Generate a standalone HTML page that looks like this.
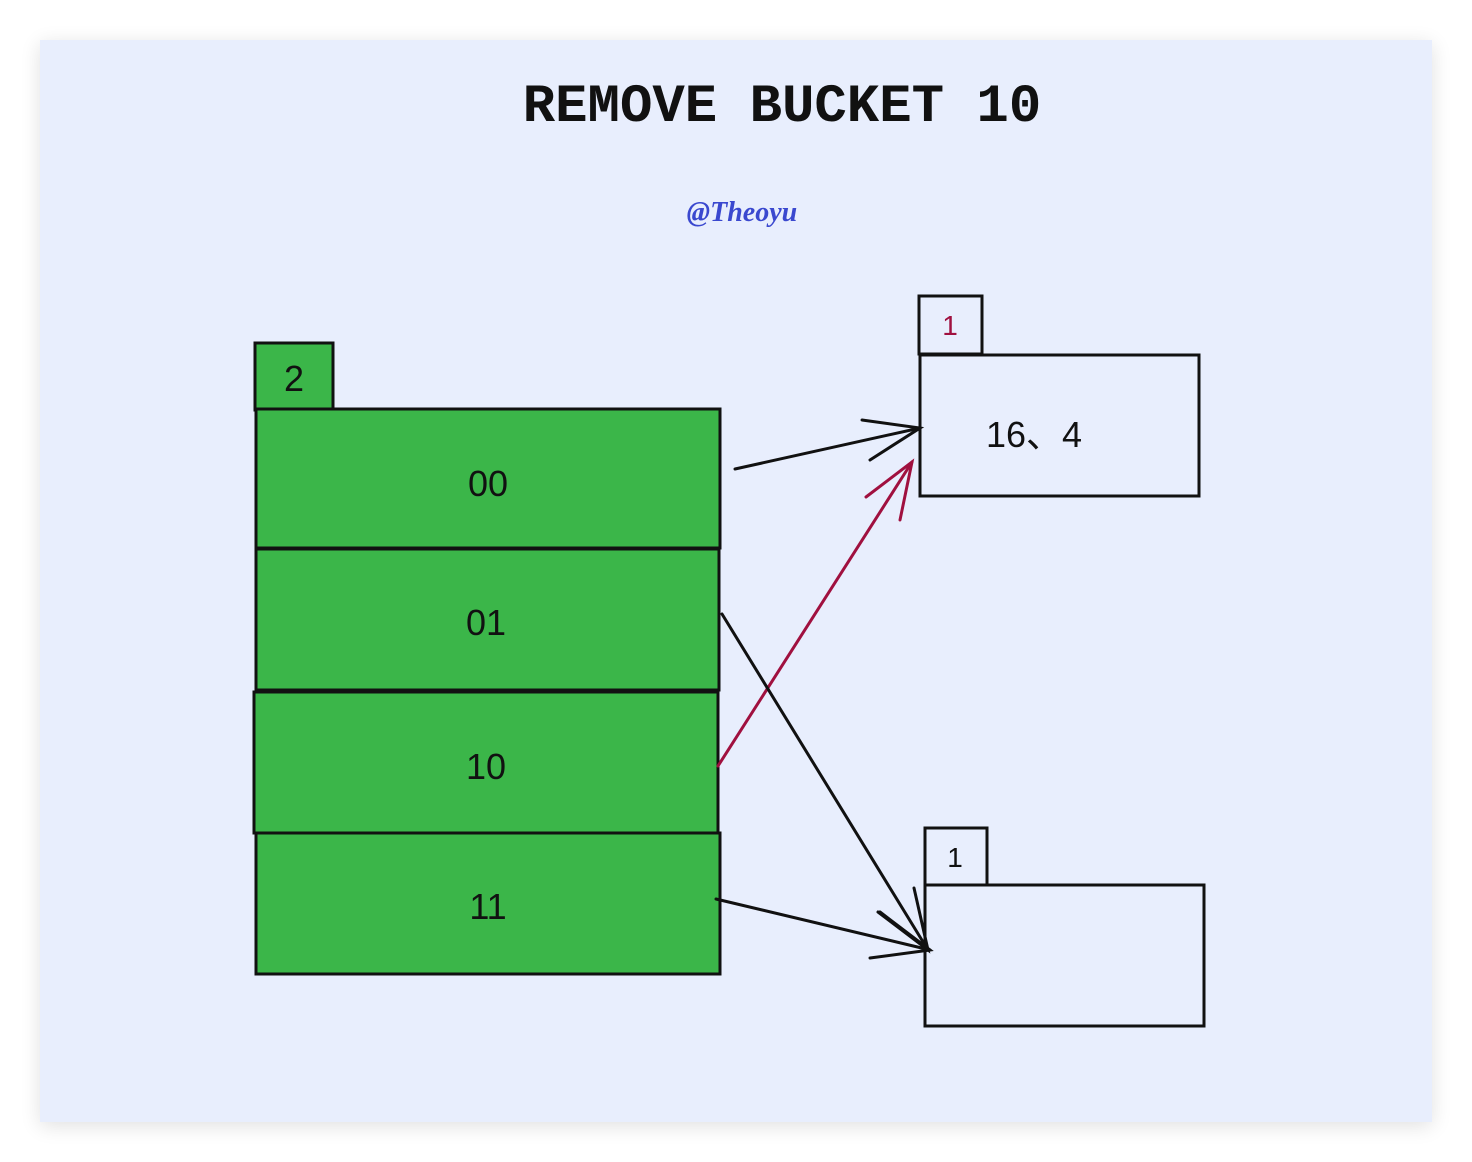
<!DOCTYPE html>
<html><head><meta charset="utf-8"><style>
html,body{margin:0;padding:0;background:#fff;width:1472px;height:1162px;overflow:hidden}
svg{display:block}
</style></head><body>
<svg width="1472" height="1162" viewBox="0 0 1472 1162" xmlns="http://www.w3.org/2000/svg">
<defs>
<filter id="sh" x="-5%" y="-5%" width="110%" height="110%"><feGaussianBlur stdDeviation="10"/></filter>
</defs>
<rect x="40" y="44" width="1392" height="1082" fill="#000" opacity="0.12" filter="url(#sh)"/>
<rect x="40" y="40" width="1392" height="1082" fill="#e8eefd"/>
<text x="782" y="121" text-anchor="middle" font-family="Liberation Mono, monospace" font-weight="bold" font-size="54" fill="#111">REMOVE BUCKET 10</text>
<text x="742" y="221" text-anchor="middle" font-family="Liberation Serif, serif" font-style="italic" font-weight="bold" font-size="28" fill="#3a48cf">@Theoyu</text>

<g stroke="#111" stroke-width="3">
<rect x="255" y="343" width="78" height="67" fill="#3bb649"/>
<rect x="256" y="409" width="464" height="139" fill="#3bb649"/>
<rect x="256" y="549" width="463" height="141" fill="#3bb649"/>
<rect x="254" y="692" width="464" height="141" fill="#3bb649"/>
<rect x="256" y="833" width="464" height="141" fill="#3bb649"/>
<rect x="919" y="296" width="63" height="58" fill="none"/>
<rect x="920" y="355" width="279" height="141" fill="none"/>
<rect x="925" y="828" width="62" height="57" fill="none"/>
<rect x="925" y="885" width="279" height="141" fill="none"/>
</g>

<g font-family="Liberation Sans, Noto Sans CJK SC, sans-serif" font-size="36" fill="#111" text-anchor="middle">
<text x="294" y="391">2</text>
<text x="488" y="496">00</text>
<text x="486" y="635">01</text>
<text x="486" y="779">10</text>
<text x="488" y="919">11</text>
<text x="1034" y="447">16、4</text>
<text x="950" y="335" font-size="28" fill="#a0103f">1</text>
<text x="955" y="867" font-size="28">1</text>
</g>

<g fill="none" stroke-width="3" stroke-linecap="round">
<g stroke="#111">
<path d="M735 469 L920 428"/><path d="M862 420 L920 428 L870 460"/>
</g>
<g stroke="#a0103f">
<path d="M718 766 L912 462"/><path d="M866 497 L912 462 L900 520"/>
</g>
<g stroke="#111">
<path d="M722 614 L928 950"/><path d="M878 912 L928 950 L914 888"/>
</g>
<g stroke="#111">
<path d="M716 899 L930 950"/><path d="M880 912 L930 950 L870 958"/>
</g>
</g>
</svg>
</body></html>
